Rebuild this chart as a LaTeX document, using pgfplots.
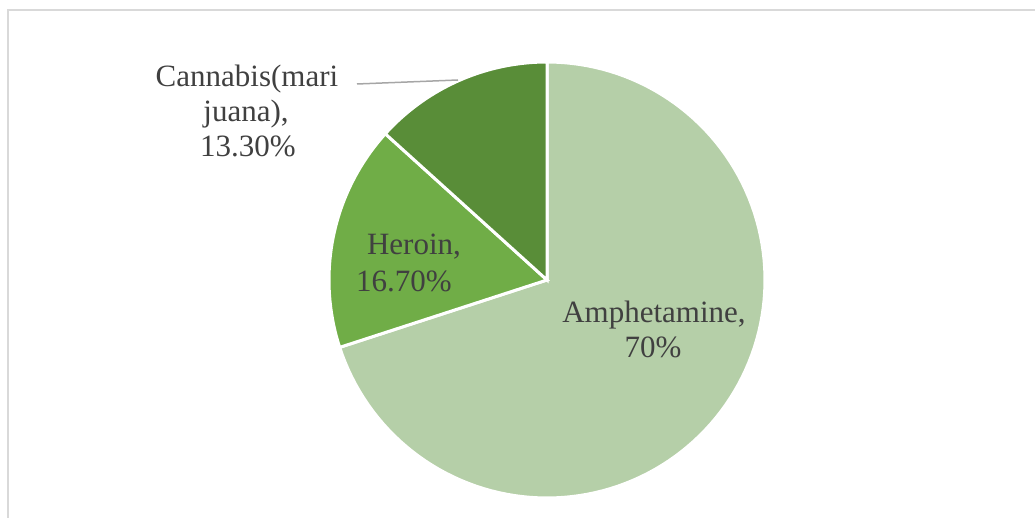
\documentclass[border=0pt]{standalone}
\usepackage{pgfplots}
\usepackage{pgfplotstable}
\pgfplotsset{compat=1.18}
\usepackage{fontspec}
\setmainfont{Liberation Serif}
\definecolor{amph}{HTML}{B5CFA8}
\definecolor{hero}{HTML}{70AD47}
\definecolor{cann}{HTML}{598D38}
\definecolor{txt}{HTML}{404040}
\definecolor{frame}{HTML}{D9D9D9}
\definecolor{leader}{HTML}{A6A6A6}
\tikzset{lbl/.style={anchor=base, inner sep=0pt, text=txt, font=\fontsize{15.5}{18}\selectfont}}
\pgfplotstableread{
name value
Amphetamine 70
Heroin 16.7
Cannabis 13.3
}\piedata
\pgfplotstablegetelem{0}{value}\of\piedata \let\vA\pgfplotsretval
\pgfplotstablegetelem{1}{value}\of\piedata \let\vH\pgfplotsretval
\pgfplotstablegetelem{2}{value}\of\piedata \let\vC\pgfplotsretval
\pgfmathsetmacro{\aA}{90}
\pgfmathsetmacro{\aB}{90-3.6*\vA}
\pgfmathsetmacro{\aC}{\aB-3.6*\vH}
\pgfmathsetmacro{\aD}{\aC-3.6*\vC}
\begin{document}
\begin{tikzpicture}
\begin{axis}[
  width=517.5pt, height=259pt, scale only axis,
  xmin=0, xmax=1035, ymin=0, ymax=518, y dir=reverse,
  axis lines=none, clip=false,
]
% frame
\addplot[frame, line width=0.8pt] coordinates {(8,518) (8,10) (1035,10)};
% wedges
\addplot[fill=amph, draw=white, line width=1.5pt, domain=\aA:\aB, samples=120]
  ({547+218*cos(x)},{280-218*sin(x)}) -- (axis cs:547,280) -- cycle;
\addplot[fill=hero, draw=white, line width=1.5pt, domain=\aB:\aC, samples=40]
  ({547+218*cos(x)},{280-218*sin(x)}) -- (axis cs:547,280) -- cycle;
\addplot[fill=cann, draw=white, line width=1.5pt, domain=\aC:\aD, samples=40]
  ({547+218*cos(x)},{280-218*sin(x)}) -- (axis cs:547,280) -- cycle;
% leader line
\addplot[leader, line width=0.75pt] coordinates {(357,84) (458,80)};
% labels
\node[lbl] at (axis cs:654,323) {Amphetamine,};
\node[lbl] at (axis cs:653,358) {70\%};
\node[lbl] at (axis cs:414,255) {Heroin,};
\node[lbl] at (axis cs:404,292) {16.70\%};
\node[lbl] at (axis cs:247,87) {Cannabis(mari};
\node[lbl] at (axis cs:246,122) {juana),};
\node[lbl] at (axis cs:248,157) {13.30\%};
\end{axis}
\pgfresetboundingbox
\path (current axis.south west) rectangle (current axis.north east);
\end{tikzpicture}
\end{document}
